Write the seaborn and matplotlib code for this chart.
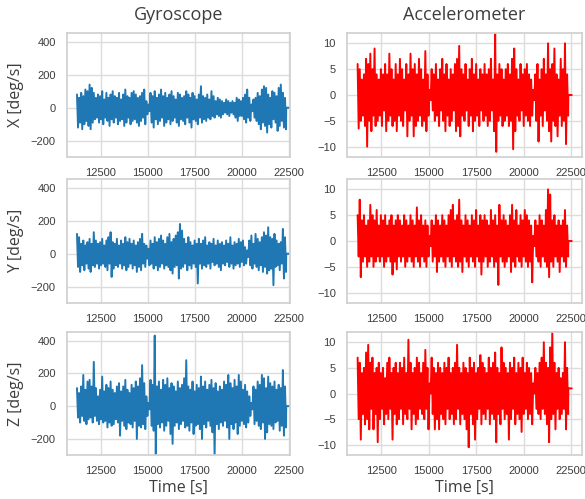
import numpy as np
import pandas as pd
import seaborn as sns
import matplotlib.pyplot as plt

# Peak values: upper / lower swing of each burst,
# 100 bursts between t = 11250 s and t = 22350 s
gyro_x_hi = [80, 60, 90, 70, 110, 100, 140, 120, 90,
             60, 80, 70, 100, 50, 90, 60, 80, 100, 70, 60, 90, 50, 80, 110, 70, 60, 90, 100, 80, 60, 70, 90, 110, 40,
             20,
             90, 70, 100, 60, 80, 110, 70, 90, 60, 80, 100, 70, 50, 90, 80, 60, 70, 100, 80, 60, 90, 70, 50, 80, 130, 70,
             60, 80, 50, 100, 70, 40, 60, 50, 40, 30, 50, 40, 30, 40, 30, 60, 50,
             40,
             60, 80, 110, 60, 20, 50,
             60, 90, 70, 110, 130, 120, 80, 60, 100, 90, 70, 120, 140, 90, 60]
gyro_x_lo = [-120, -90, -130, -100, -80, -110, -130, -90, -70,
             -60, -90, -70, -100, -60, -80, -110, -70, -90, -60, -100, -80, -70, -110, -90, -60, -100, -80, -70, -90, -110, -80, -60, -100, -40,
             -20,
             -90, -120, -70, -100, -80, -60, -110, -90, -70, -100, -80, -60, -90, -110, -70, -80, -100, -60, -90, -120, -70, -80, -100, -60, -90, -70,
             -80, -60, -70, -50, -60, -40, -50, -60, -40, -30, -40, -50, -30, -40, -60, -80, -50,
             -50,
             -70, -90, -60, -80, -20, -60,
             -80, -100, -130, -90, -110, -150, -100, -120, -70, -90, -140, -110, -80, -120, -130]

gyro_y_hi = [120, 100, 60, 80, 50, 70, 90, 60, 130, 80,
             60, 70, 90, 50, 80, 100, 130, 70, 60, 90,
             50, 80, 60, 100, 70, 90, 60, 80, 50, 70,
             90, 120, 60, 50, 30, 80, 60, 100, 70, 90,
             110, 80, 60, 100, 120, 70, 90, 110, 130, 180,
             140, 90, 60, 100, 70, 50, 80, 60, 90, 60,
             80, 100, 50, 70, 60, 90, 50, 80, 60, 70,
             50, 80, 60, 100, 50, 70, 60, 90, 70, 80,
             40, 20, 80, 110, 60, 120, 90, 70, 100, 130,
             110, 160, 100, 90, 120, 80, 60, 70, 150, 100]
gyro_y_lo = [-80, -110, -70, -100, -60, -90, -110, -70, -80, -60,
             -90, -70, -60, -80, -100, -60, -140, -90, -70, -80,
             -60, -90, -70, -100, -80, -60, -90, -70, -110, -80,
             -100, -60, -80, -30, -70, -60, -90, -70, -100, -80,
             -60, -90, -70, -80, -100, -120, -80, -70, -150, -90,
             -80, -60, -100, -70, -90, -60, -80, -180, -60, -90,
             -70, -80, -60, -90, -50, -70, -60, -80, -100, -60,
             -70, -50, -80, -60, -90, -70, -60, -80, -50, -70,
             -60, -20, -70, -90, -60, -80, -100, -70, -110, -80,
             -120, -100, -90, -190, -80, -70, -100, -60, -150, -110]

gyro_z_hi = [110, 80, 120, 190, 100, 150, 160, 120, 270, 110,
             60, 100, 180, 90, 130, 110, 150, 100, 80, 120,
             140, 90, 120, 160, 100, 80, 130, 110, 150, 120,
             170, 250, 140, 60, 20, 160, 130, 430, 120, 150,
             100, 160, 130, 170, 110, 140, 120, 90, 150, 110,
             130, 170, 280, 120, 100, 150, 90, 130, 110, 180,
             120, 150, 100, 130, 160, 110, 140, 90, 120, 100,
             150, 130, 190, 140, 110, 160, 120, 190, 150, 100,
             130, 90, 60, 20, 120, 100, 150, 130, 190, 170,
             110, 180, 140, 120, 150, 100, 130, 110, 220, 120]
gyro_z_lo = [-70, -100, -60, -90, -110, -80, -70, -100, -60, -90,
             -110, -80, -100, -90, -130, -100, -120, -110, -80, -100,
             -180, -90, -120, -140, -100, -110, -130, -90, -200, -120,
             -130, -110, -140, -60, -20, -120, -150, -300, -110, -130,
             -100, -150, -120, -90, -170, -230, -120, -100, -140, -110,
             -90, -130, -120, -150, -100, -170, -120, -110, -140, -200,
             -110, -130, -90, -120, -160, -300, -110, -140, -100, -120,
             -90, -130, -200, -110, -140, -100, -170, -120, -90, -110,
             -130, -100, -60, -20, -110, -90, -120, -140, -100, -200,
             -160, -110, -120, -140, -100, -90, -150, -120, -180, -130]

acc_x_hi = [6, 5, 3, 4, 7, 6, 8, 5, 9, 4,
            3, 5, 4, 6, 4, 8, 5, 3, 6, 4,
            7, 5, 3, 6, 4, 8, 5, 6, 4, 7,
            5, 3, 8.5, 4, 1, 5, 4, 6, 3, 5,
            7, 4, 6, 3, 5, 4, 6, 7, 9.5, 5,
            4, 6, 3, 5, 7, 4, 6, 3, 5, 4,
            6, 4, 5, 7, 3, 12, 4, 6, 5, 3,
            5, 6, 4, 7, 9, 5, 3, 6, 4, 5,
            6, 4, 3, 1, 4, 6, 3, 5, 7, 4,
            10, 5, 6, 9, 4, 3, 7, 5, 10, 4]
acc_x_lo = [-6.5, -5, -4, -6, -10, -5, -7, -4, -6, -5,
            -4, -6, -3, -7, -5, -4, -6, -5, -7, -4,
            -5, -6, -3, -8, -5, -4, -8, -6, -5, -4,
            -6, -5, -7, -4, -1, -3, -5, -4, -6, -3,
            -5, -7, -4, -6, -5, -3, -7, -6, -8, -4,
            -5, -3, -6, -4, -7, -5, -4, -6, -3, -5,
            -4, -6, -5, -3, -7, -11, -5, -4, -6, -5,
            -4, -6, -5, -10.5, -7, -4, -5, -3, -6, -4,
            -5, -6, -4, -1, -5, -9, -4, -6, -3, -5,
            -7, -9, -5, -6, -8, -4, -6, -5, -9.5, -4]

acc_y_hi = [5, 8, 4, 5, 3, 4, 7, 5, 4, 6,
            3, 5, 4, 5, 3, 4, 5, 3, 4, 5,
            4, 3, 5, 4, 3, 5, 4, 3, 6.5, 4,
            5, 3, 4, 3, 1, 4, 3, 5, 4, 3,
            5, 4, 3, 5, 6, 7, 4, 5, 8, 4,
            3, 5, 4, 3, 5, 4, 6, 3, 5, 4,
            5, 4, 3, 6, 4, 5, 3, 7, 4, 5,
            4, 3, 5, 7, 4, 6, 3, 5, 4, 6,
            5, 4, 3, 1, 4, 3, 5, 4, 3, 6,
            10, 9, 4, 5, 3, 4, 3, 4, 6, 3]
acc_y_lo = [-3, -7, -4, -3, -5, -4, -3, -5, -4, -3,
            -4, -3, -5, -4, -3, -4, -6.5, -4, -5.5, -3,
            -4, -3, -5, -4, -3, -4, -5, -3, -4, -5,
            -3, -4, -5, -3, -1, -4, -3, -6, -4, -3,
            -4, -5, -3, -4, -5, -3, -4, -5, -4, -6,
            -3, -4, -5, -3, -4, -5, -3, -4, -6.5, -4,
            -3, -5, -4, -3, -5, -4, -8.5, -3, -4, -5,
            -4, -3, -6, -4, -5, -3, -4, -5, -3, -4,
            -5, -4, -8, -1, -3, -4, -5, -3, -4, -5,
            -7, -4, -5, -3, -4, -6, -3, -4, -5, -3]

acc_z_hi = [7, 6, 4, 5, 8, 9.5, 6, 7, 4, 5,
            6, 4, 5, 3, 6, 7, 4, 5, 6, 4,
            6, 5, 7, 4, 10.5, 6, 4, 5, 7, 6,
            4, 6, 8.5, 5, 2, 7, 5, 4, 6, 5,
            4, 6, 5, 7, 4, 5, 6, 9.5, 5, 4,
            6, 5, 4, 7, 5, 6, 4, 5, 7.5, 6,
            5, 4, 7, 5, 6, 8, 5, 4, 9, 6,
            5, 4, 6, 5, 7, 4, 6, 5, 7, 4,
            6, 5, 4, 2, 5, 4, 6, 7, 10, 6,
            5, 9, 12, 6, 4, 5, 3, 4, 10, 5]
acc_z_lo = [-5, -9, -4, -6, -5, -7, -3, -7, -4, -9.5,
            -5, -3, -6, -4, -5, -3, -9, -4, -6, -5,
            -3, -6, -4, -5, -3, -7, -4, -6, -5, -3,
            -4, -5, -3, -7, 0, -4, -7, -5, -7, -4,
            -5, -6, -3, -5, -4, -6, -5, -3, -6, -4,
            -5, -7, -10.5, -4, -6, -9, -5, -3, -6, -4,
            -5, -3, -6, -4, -5, -9.5, -4, -6, -3, -5,
            -4, -9, -5, -3, -6, -4, -5, -7.5, -4, -3,
            -5, -4, -6, 0, -3, -4, -5, -3, -4, -6,
            -9.5, -5, -4, -7, -3, -5, -4, -3, -7, -4]

# idle value after the recording stops
gyro_tail = [0, 0, 0]
acc_tail = [0, 0, 1]
t_first, t_last, t_end = 11250, 22350, 22540

axis_names = ['X', 'Y', 'Z']
col_titles = ['Gyroscope', 'Accelerometer']
time_ticks = [12500, 15000, 17500, 20000, 22500]
gyro_ticks = [-200, 0, 200, 400]
acc_ticks = [-10, -5, 0, 5, 10]


def make_frame(hi, lo, tail):
    vals = np.ravel(np.column_stack([hi, lo]))
    t = np.linspace(t_first, t_last, len(vals))
    t = np.append(t, [t_last + 10, t_end])
    vals = np.append(vals, [tail, tail])
    return pd.DataFrame({'time': t, 'value': vals})


gyro = [make_frame(gyro_x_hi, gyro_x_lo, gyro_tail[0]),
        make_frame(gyro_y_hi, gyro_y_lo, gyro_tail[1]),
        make_frame(gyro_z_hi, gyro_z_lo, gyro_tail[2])]
acc = [make_frame(acc_x_hi, acc_x_lo, acc_tail[0]),
       make_frame(acc_y_hi, acc_y_lo, acc_tail[1]),
       make_frame(acc_z_hi, acc_z_lo, acc_tail[2])]

sns.set_theme(style='whitegrid')
plt.rcParams['font.family'] = ['Liberation Sans', 'DejaVu Sans']
plt.rcParams['axes.unicode_minus'] = True

fig = plt.figure(figsize=(5.85, 4.99), dpi=100)
W, H = 585, 499
rows = [(33, 157), (179, 303), (332, 455)]
cols = [(67, 290), (347, 582)]
xlims = [(10720, 22560), (10690, 23080)]

label_font = dict(family='Open Sans', color='#3d3d3d')

for r, (top, bot) in enumerate(rows):
    for c, (left, right) in enumerate(cols):
        ax = fig.add_axes([left / W, 1 - bot / H, (right - left) / W, (bot - top) / H])
        if c == 0:
            d = gyro[r]
            sns.lineplot(data=d, x='time', y='value', ax=ax, color='#1f77b4',
                         linewidth=1.4, estimator=None, sort=False)
            ax.set_ylim(-298, 452)
            ax.set_yticks(gyro_ticks)
            ax.set_ylabel(f'{axis_names[r]} [deg/s]', fontsize=11.5, labelpad=5, **label_font)
        else:
            d = acc[r]
            sns.lineplot(data=d, x='time', y='value', ax=ax, color='red',
                         linewidth=1.4, estimator=None, sort=False)
            ax.set_ylim(-12, 12)
            ax.set_yticks(acc_ticks)
            ax.set_ylabel('')
        ax.set_xlim(*xlims[c])
        ax.set_xticks(time_ticks)
        ax.tick_params(labelsize=8, colors='#3d3d3d', pad=2)
        for s in ax.spines.values():
            s.set_color('#d0d0d0')
        ax.grid(color='#dcdcdc', linewidth=1)
        if r == 0:
            ax.set_title(col_titles[c], fontsize=13, pad=9, **label_font)
        if r == 2:
            ax.set_xlabel('Time [s]', fontsize=11.5, labelpad=3, **label_font)
        else:
            ax.set_xlabel('')

fig.savefig('out.png', dpi=100)
